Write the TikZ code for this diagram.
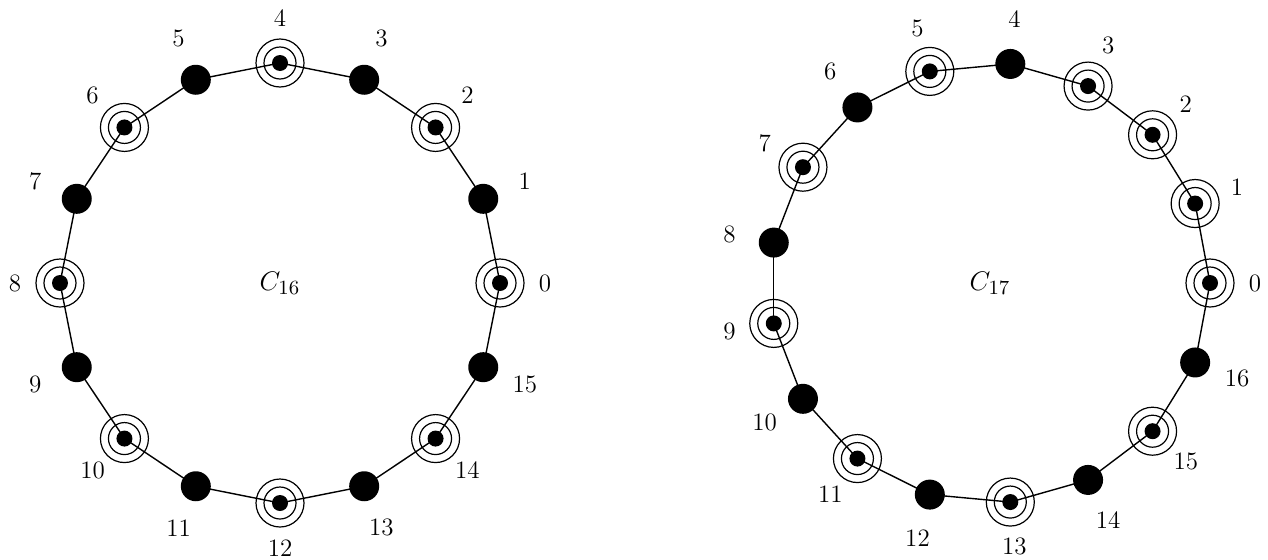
\documentclass[tikz,border=0pt]{standalone}
\usepackage{fontspec}
\usetikzlibrary{positioning,calc}

\begin{document}
\begin{tikzpicture}[x=0.5pt,y=0.5pt,font=\fontsize{12.5}{15}\selectfont,
    full/.style={circle,fill=black,inner sep=0pt,minimum size=15pt},
    ring/.style={circle,draw=black,line width=0.6pt,inner sep=0pt,minimum size=24pt,
      path picture={\draw[line width=0.6pt] (path picture bounding box.center) circle (8pt);
        \fill (path picture bounding box.center) circle (4pt);}},
    cyc/.style={scale=1.12,transform shape},
    edge/.style={line width=0.7pt}]
  \useasboundingbox (0,0) rectangle (1268,559);
  % C_16: rings on the even vertices
  \begin{scope}[shift={(280,276)}]
    \node[cyc] (ca) {$C_{16}$};
    \foreach \i in {0,2,...,14} \node[ring] (a\i) at ({22.5*\i}:220) {};
    \foreach \i in {1,3,...,15} \node[full] (a\i) at ({22.5*\i}:220) {};
    \foreach \i in {0,...,15} \node (la\i) at ({22.5*\i}:265) {\i};
    \foreach \i [evaluate=\i as \j using {int(mod(\i+1,16))}] in {0,...,15}
      \draw[edge] (a\i.center) -- (a\j.center);
  \end{scope}
  % C_17
  \begin{scope}[shift={(990,276)}]
    \node[cyc] (cb) {$C_{17}$};
    \foreach \i in {0,1,2,3,5,7,9,11,13,15} \node[ring] (b\i) at ({360*\i/17}:220) {};
    \foreach \i in {4,6,...,16} \node[full] (b\i) at ({360*\i/17}:220) {};
    \foreach \i in {0,...,16} \node (lb\i) at ({360*\i/17}:265) {\i};
    \foreach \i [evaluate=\i as \j using {int(mod(\i+1,17))}] in {0,...,16}
      \draw[edge] (b\i.center) -- (b\j.center);
  \end{scope}
\end{tikzpicture}
\end{document}
